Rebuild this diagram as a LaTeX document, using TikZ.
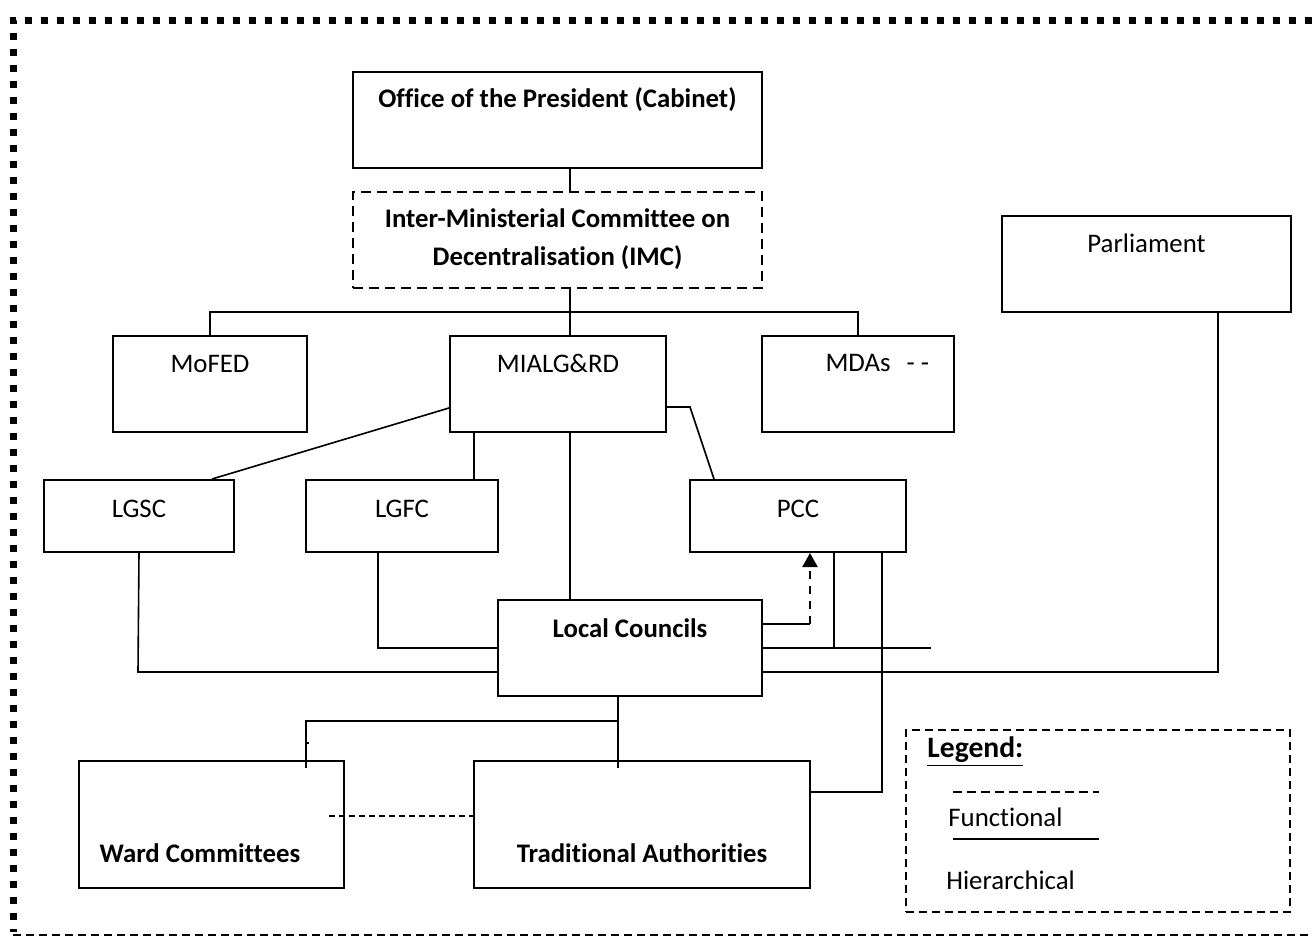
\documentclass[tikz,border=0pt]{standalone}
\usepackage{fontspec}
\setmainfont{Carlito}[Ligatures=CommonOff]
\usetikzlibrary{fit,arrows.meta}
\begin{document}
\begin{tikzpicture}[x=0.5pt,y=-0.5pt,
  box/.style={draw, line width=1pt, inner sep=0pt},
  dbox/.style={draw, line width=0.9pt, inner sep=0pt, dash pattern=on 5pt off 3pt},
  conn/.style={line width=0.8pt},
  lbl/.style={inner sep=0pt, font=\fontsize{13.4}{16}\selectfont},
  blbl/.style={inner sep=0pt, font=\fontsize{13.4}{16}\selectfont\bfseries, align=center}]
\useasboundingbox (0,0) rectangle (1312,937);
% outer frame
\draw[line width=3.5pt, dash pattern=on 3.5pt off 4.5pt] (1312,20) -- (13,20) -- (13,932);
\draw[line width=0.9pt, dash pattern=on 4pt off 2.5pt] (13,935) -- (1312,935);
% boxes
\node[box, fit={(353,72)(762,168)}] (pres) {};
\node[blbl] (prest) at (557.5,100) {Office of the President (Cabinet)};
\node[dbox, fit={(353,192)(762,288)}] (imc) {};
\node[blbl] (imct) at (557.5,239) {Inter-Ministerial Committee on\\[3pt]Decentralisation (IMC)};
\node[box, fit={(1002,216)(1291,312)}] (parl) {};
\node[lbl] (parlt) at (1146.5,243) {Parliament};
\node[box, fit={(113,336)(307,432)}] (mofed) {};
\node[lbl] (mofedt) at (210,364) {MoFED};
\node[box, fit={(450,336)(666,432)}] (mialg) {};
\node[lbl] (mialgt) at (558,363) {MIALG\&RD};
\node[box, fit={(762,336)(954,432)}] (mdas) {};
\node[lbl] (mdast) at (858,363) {MDAs\rlap{\hspace{8pt}- -}};
\node[box, fit={(44,480)(234,552)}] (lgsc) {};
\node[lbl] (lgsct) at (139,509) {LGSC};
\node[box, fit={(306,480)(498,552)}] (lgfc) {};
\node[lbl] (lgfct) at (402,509) {LGFC};
\node[box, fit={(690,480)(906,552)}] (pcc) {};
\node[lbl] (pcct) at (798,509) {PCC};
\node[box, fit={(498,600)(762,696)}] (lc) {};
\node[blbl] (lct) at (630,628) {Local Councils};
\node[box, fit={(79,761)(344,888)}] (ward) {};
\node[blbl] (wardt) at (200,853) {Ward Committees};
\node[box, fit={(474,761)(810,888)}] (ta) {};
\node[blbl] (tat) at (642,853) {Traditional Authorities};
\node[dbox, line width=0.8pt, dash pattern=on 4pt off 2.5pt, fit={(906,730)(1290,912)}] (leg) {};
\node[blbl, anchor=west, font=\fontsize{14.8}{17}\selectfont\bfseries] (legt) at (927,752) {\underline{Legend:}};
\coordinate (fa) at (953,792); \coordinate (fb) at (1099,792);
\coordinate (ha) at (953,839); \coordinate (hb) at (1099,839);
\draw[conn, dash pattern=on 4.5pt off 2.5pt] (fa) -- (fb);
\draw[conn] (ha) -- (hb);
\node[lbl, anchor=west] (funct) at (948,817) {Functional};
\node[lbl, anchor=west] (hiert) at (946,880) {Hierarchical};
% connectors
\coordinate (bus) at (570,312);
\draw[conn] (570,0 |- pres.south) -- (570,0 |- imc.north);
\draw[conn] (570,0 |- imc.south) -- (bus);
\draw[conn] (mofed.north) -- (mofed.north |- bus) -- (mdas.north |- bus) -- (mdas.north);
\draw[conn] (bus) -- (570,0 |- mialg.north);
\draw[conn] (mialg.west |- 0,408) -- (212,0 |- lgsc.north);
\draw[conn] (474,0 |- mialg.south) -- (474,0 |- lgfc.north);
\draw[conn] (570,0 |- mialg.south) -- (570,0 |- lc.north);
\draw[conn] (mialg.east |- 0,407) -- (690,407) -- (714,0 |- pcc.north);
\draw[conn] (lgsc.south) -- (138,672) -- (lc.west |- 0,672);
\draw[conn] (378,0 |- lgfc.south) -- (378,648) -- (lc.west |- 0,648);
\draw[conn] (lc.east |- 0,624) -- (810,624);
\draw[line width=1.1pt, dash pattern=on 4pt off 3.5pt, -{Triangle[length=7pt,width=7.5pt]}] (810,624) -- (810,0 |- pcc.south);
\coordinate (pend) at (931,648);
\draw[conn] (834,0 |- pcc.south) -- (834,648);
\draw[conn] (lc.east |- 0,648) -- (pend);
\draw[conn] (lc.east |- 0,672) -- (1218,672) -- (1218,0 |- parl.south);
\draw[conn] (882,0 |- pcc.south) -- (882,792) -- (ta.east |- 0,792);
\draw[conn] (618,0 |- lc.south) -- (618,721) -- (306,721) -- (306,768);
\draw[conn] (618,721) -- (618,768);
\draw[conn] (306,743) -- (309,743);
\draw[conn, dash pattern=on 3pt off 2pt] (329,816) -- (ta.west |- 0,816);
\end{tikzpicture}
\end{document}
